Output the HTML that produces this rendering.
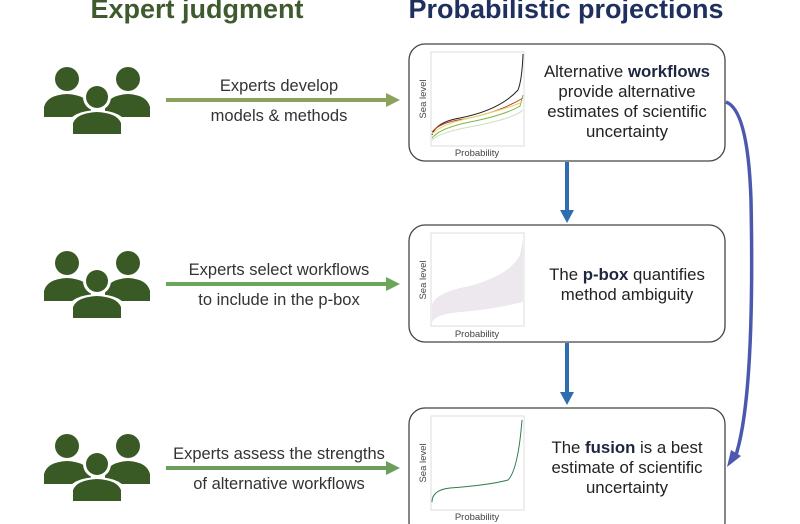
<!DOCTYPE html>
<html><head><meta charset="utf-8"><style>
body{margin:0;background:#fff;}
svg{display:block;font-family:"Liberation Sans",sans-serif;}
</style></head><body>
<svg width="800" height="524" viewBox="0 0 800 524" xmlns="http://www.w3.org/2000/svg">
<defs>
<g id="ppl" fill="#3a5a25">
  <circle cx="24" cy="12" r="12"/>
  <circle cx="85" cy="12" r="12"/>
  <path d="M1 50 L1 40 Q4 28 24 27 Q44 28 48 40 L48 50 Z"/>
  <path d="M62 50 L62 40 Q66 28 85 27 Q104 28 107 40 L107 50 Z"/>
  <circle cx="54" cy="30" r="14" fill="#fff"/>
  <path d="M24 70 L24 58 Q28 44 54 43 Q80 44 84 58 L84 70 Z" fill="#fff"/>
  <circle cx="54" cy="30" r="11"/>
  <path d="M30 67 L30 56 Q34 46 54 45 Q74 46 78 56 L78 67 Z"/>
</g>
</defs>
<text x="197" y="18" text-anchor="middle" font-size="27" font-weight="bold" fill="#3f5a2e">Expert judgment</text>
<text x="566" y="18" text-anchor="middle" font-size="27" font-weight="bold" fill="#1f2f5e">Probabilistic projections</text>

<use href="#ppl" x="43" y="67"/>
<use href="#ppl" x="43" y="251"/>
<use href="#ppl" x="43" y="434"/>

<g font-size="16.5" fill="#333" text-anchor="middle">
<text x="279" y="91">Experts develop</text>
<text x="279" y="121">models &amp; methods</text>
<text x="279" y="275">Experts select workflows</text>
<text x="279" y="305">to include in the p-box</text>
<text x="279" y="459">Experts assess the strengths</text>
<text x="279" y="489">of alternative workflows</text>
</g>
<line x1="166" y1="100" x2="388" y2="100" stroke="#8ba25a" stroke-width="4"/>
<path d="M386 93 L400 100 L386 107 Z" fill="#8ba25a"/>
<line x1="166" y1="284" x2="388" y2="284" stroke="#6aa55a" stroke-width="4"/>
<path d="M386 277 L400 284 L386 291 Z" fill="#6aa55a"/>
<line x1="166" y1="468" x2="388" y2="468" stroke="#6a9e5a" stroke-width="4"/>
<path d="M386 461 L400 468 L386 475 Z" fill="#6a9e5a"/>

<g fill="#fff" stroke="#444" stroke-width="1.3">
<rect x="409" y="44" width="316" height="117" rx="16"/>
<rect x="409" y="225" width="316" height="117" rx="16"/>
<rect x="409" y="408" width="316" height="130" rx="16"/>
</g>
<g fill="none" stroke="#ddd" stroke-width="1">
<rect x="431" y="52" width="93" height="94"/>
<rect x="431" y="233" width="93" height="93"/>
<rect x="431" y="416" width="93" height="94"/>
</g>
<g font-size="9.5" fill="#444">
<text x="477" y="156" text-anchor="middle">Probability</text>
<text x="477" y="337" text-anchor="middle">Probability</text>
<text x="477" y="520" text-anchor="middle">Probability</text>
<text transform="translate(426,99) rotate(-90)" text-anchor="middle">Sea level</text>
<text transform="translate(426,280) rotate(-90)" text-anchor="middle">Sea level</text>
<text transform="translate(426,463) rotate(-90)" text-anchor="middle">Sea level</text>
</g>
<path d="M432 135 Q436 122 460 118 Q500 110 518 90 Q522 80 523 54" fill="none" stroke="#222" stroke-width="1"/>
<path d="M432 132 Q440 122 465 119 Q500 112 523 98" fill="none" stroke="#c0392b" stroke-width="1"/>
<path d="M432 138 Q440 128 470 122 Q505 115 520 106 L523 95" fill="none" stroke="#7ab648" stroke-width="1"/>
<path d="M432 134 Q442 124 470 118 Q510 108 522 102" fill="none" stroke="#e8d860" stroke-width="1"/>
<path d="M432 140 Q440 132 475 126 Q515 118 523 110" fill="none" stroke="#cfe0c0" stroke-width="1"/>
<path d="M432 305 Q436 292 470 286 Q510 275 520 255 L523 240 L523 302 Q490 310 460 312 Q436 314 432 322 Z" fill="#ece8ee"/>
<path d="M432 502 Q432 490 450 488 Q490 485 508 480 Q518 470 522 420" fill="none" stroke="#2e7d4f" stroke-width="1"/>

<g font-size="16.8" fill="#222" text-anchor="middle">
<text x="627" y="77">Alternative <tspan font-weight="bold" fill="#1f2640">workflows</tspan></text>
<text x="627" y="97">provide alternative</text>
<text x="627" y="117">estimates of scientific</text>
<text x="627" y="137">uncertainty</text>
<text x="627" y="280">The <tspan font-weight="bold" fill="#1f2640">p-box</tspan> quantifies</text>
<text x="627" y="300">method ambiguity</text>
<text x="627" y="453">The <tspan font-weight="bold" fill="#1f2640">fusion</tspan> is a best</text>
<text x="627" y="473">estimate of scientific</text>
<text x="627" y="493">uncertainty</text>
</g>

<line x1="567" y1="162" x2="567" y2="212" stroke="#2e6db0" stroke-width="4"/>
<path d="M560 210 L567 223 L574 210 Z" fill="#2e6db0"/>
<line x1="567" y1="343" x2="567" y2="394" stroke="#2e6db0" stroke-width="4"/>
<path d="M560 392 L567 405 L574 392 Z" fill="#2e6db0"/>

<path d="M726 102 Q748 110 751 200 Q755 400 735 458" fill="none" stroke="#4b58ad" stroke-width="3.5"/>
<path d="M727 467 L731 450 L741 456 Z" fill="#4b58ad"/>
</svg>
</body></html>
